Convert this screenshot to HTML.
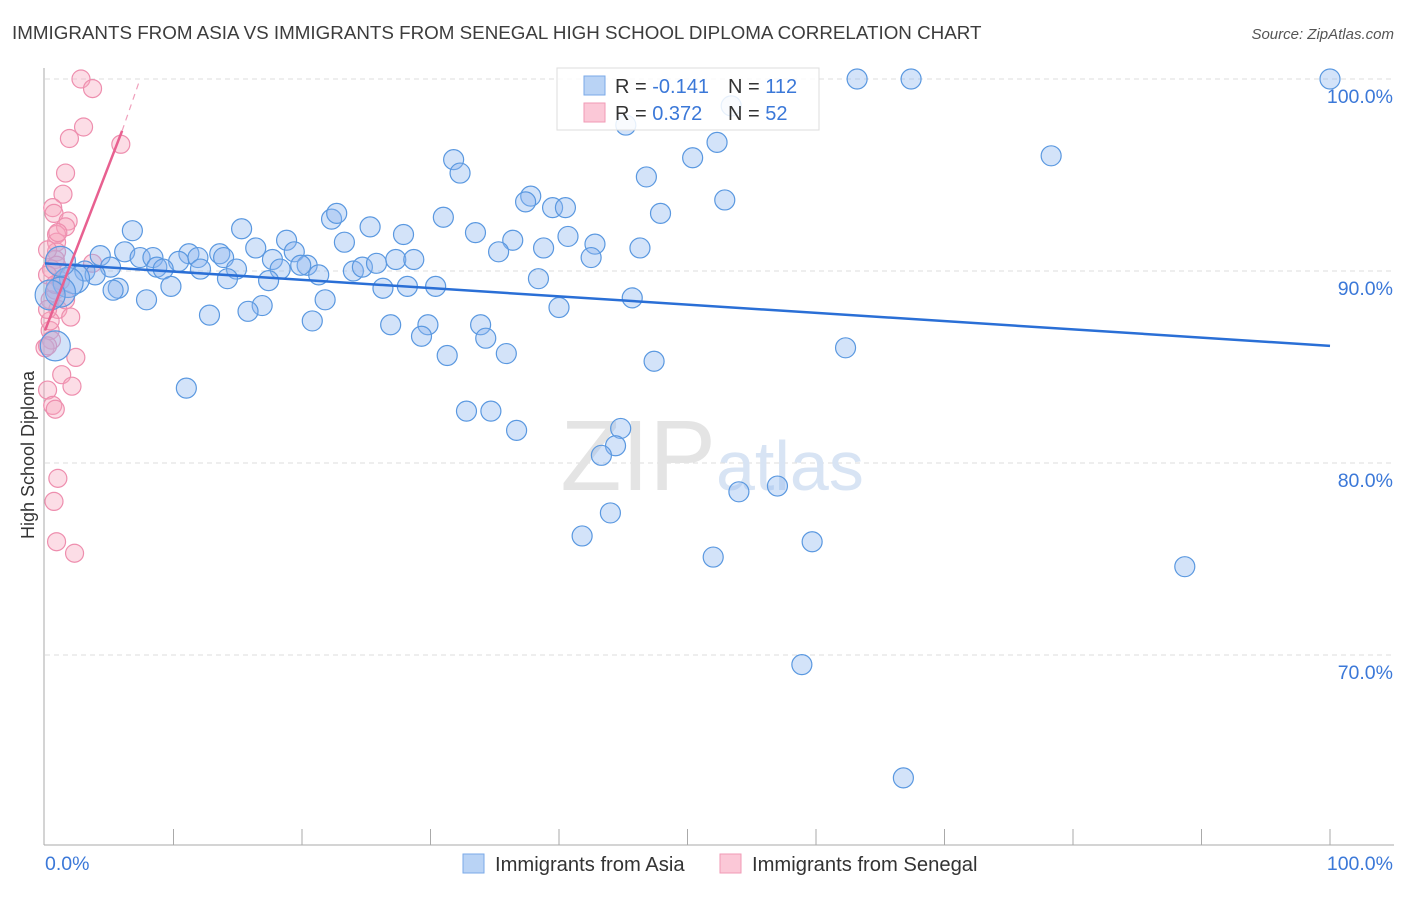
<!DOCTYPE html>
<html><head><meta charset="utf-8"><style>
body{margin:0;background:#fff;font-family:"Liberation Sans",sans-serif;}
svg text{font-family:"Liberation Sans",sans-serif;}
</style></head><body>
<svg id="chart" width="1406" height="892" viewBox="0 0 1406 892" xmlns="http://www.w3.org/2000/svg">
<text x="12" y="39" font-size="18.8" fill="#3c3c3c">IMMIGRANTS FROM ASIA VS IMMIGRANTS FROM SENEGAL HIGH SCHOOL DIPLOMA CORRELATION CHART</text>
<text x="1394" y="39" font-size="15" fill="#555" text-anchor="end" font-style="italic">Source: ZipAtlas.com</text>
<text transform="translate(34,455) rotate(-90)" font-size="18" fill="#333" text-anchor="middle">High School Diploma</text>
<g id="grid"></g>
<text x="716" y="490" font-size="100" fill="#e4e4e4" text-anchor="end" font-family="Liberation Serif">ZIP</text>
<text x="716" y="490" font-size="70" fill="#d8e4f4">atlas</text>
<g id="pts"></g>
<g id="trend"></g>
<g>
<rect x="557" y="68" width="262" height="62" fill="rgba(255,255,255,0.85)" stroke="#ddd"/>
<rect x="584" y="76" width="21" height="19" fill="#b9d3f5" stroke="#7aa9e8"/>
<rect x="584" y="103" width="21" height="19" fill="#fbc8d7" stroke="#f09ab6"/>
<text x="615" y="93" font-size="20" fill="#333">R = <tspan fill="#3b78d8">-0.141</tspan></text>
<text x="728" y="93" font-size="20" fill="#333">N = <tspan fill="#3b78d8">112</tspan></text>
<text x="615" y="120" font-size="20" fill="#333">R = <tspan fill="#3b78d8"> 0.372</tspan></text>
<text x="728" y="120" font-size="20" fill="#333">N = <tspan fill="#3b78d8"> 52</tspan></text>
</g>
<g>
<rect x="463" y="854" width="21" height="19" fill="#b9d3f5" stroke="#7aa9e8"/>
<text x="495" y="871" font-size="20.2" fill="#333">Immigrants from Asia</text>
<rect x="720" y="854" width="21" height="19" fill="#fbc8d7" stroke="#f09ab6"/>
<text x="752" y="871" font-size="20.2" fill="#333">Immigrants from Senegal</text>
</g>
</svg>
<script>
const yTicks=[100,90,80,70];
const xTickLabels=["0.0%","100.0%"];
const blueX=[100,63.2,67.4,53.4,45.2,31.8,32.3,50.4,52.3,78.3,46.8,37.8,37.4,39.5,40.5,47.9,52.9,22.3,22.7,31.0,25.3,15.3,6.8,23.3,33.5,27.9,36.4,40.7,42.8,18.8,35.3,38.8,46.3,42.5,16.4,19.4,13.6,11.2,4.3,6.2,7.4,8.4,10.4,11.9,13.9,17.7,20.4,18.3,19.9,21.3,24.0,24.7,25.8,27.3,28.7,8.7,9.2,12.1,14.9,14.2,17.4,5.1,3.1,3.9,2.3,1.8,1.2,5.7,5.3,9.8,7.9,26.3,28.2,30.4,38.4,45.7,21.8,16.9,15.8,12.8,20.8,40.0,26.9,29.8,33.9,29.3,34.3,31.3,35.9,47.4,62.3,11.0,32.8,34.7,36.7,44.8,44.4,43.3,54.0,57.0,44.0,41.8,52.0,59.7,88.7,58.9,66.8,0.8,0.4,1.2];
const blueY=[100,100,100,98.6,97.6,95.8,95.1,95.9,96.7,96.0,94.9,93.9,93.6,93.3,93.3,93.0,93.7,92.7,93.0,92.8,92.3,92.2,92.1,91.5,92.0,91.9,91.6,91.8,91.4,91.6,91.0,91.2,91.2,90.7,91.2,91.0,90.9,90.9,90.8,91.0,90.7,90.7,90.5,90.7,90.7,90.6,90.3,90.1,90.3,89.8,90.0,90.2,90.4,90.6,90.6,90.2,90.1,90.1,90.1,89.6,89.5,90.2,90.0,89.8,89.6,89.4,88.9,89.1,89.0,89.2,88.5,89.1,89.2,89.2,89.6,88.6,88.5,88.2,87.9,87.7,87.4,88.1,87.2,87.2,87.2,86.6,86.5,85.6,85.7,85.3,86.0,83.9,82.7,82.7,81.7,81.8,80.9,80.4,78.5,78.8,77.4,76.2,75.1,75.9,74.6,69.5,63.6,86.1,88.75,90.5];
const pinkX=[2.8,3.7,3.0,1.9,5.9,1.6,1.4,0.6,0.7,1.8,1.6,0.9,0.9,0.9,0.8,0.9,0.5,0.2,1.2,3.7,0.8,0.4,1.0,2.0,0.4,0.5,0,2.4,1.3,2.1,0.2,0.6,0.8,1.0,0.7,0.9,2.3,0.4,0.2,0.8,1.6,0.2,0.2,1.0];
const pinkY=[100,99.5,97.5,96.9,96.6,95.1,94.0,93.3,93.0,92.6,92.3,91.9,91.5,91.0,90.6,90.3,90.1,89.8,89.5,90.4,89.0,88.5,88.0,87.6,86.9,86.4,86.0,85.5,84.6,84.0,83.8,83.0,82.8,79.2,78.0,75.9,75.3,87.4,86.1,89.3,88.5,91.1,88.0,92.0];
const blueTrend=[[0,90.4],[100,86.1]];
const pinkTrend=[[0,86.9],[6.0,97.3]];
const pinkTrendExt=[[6.0,97.3],[7.4,100]];

const NS="http://www.w3.org/2000/svg";
const X0=45,X1=1330,Y100=79,PX_PER_PCT=19.2,BOTTOM=845;
const sx=v=>X0+(X1-X0)*v/100;
const sy=v=>Y100+(100-v)*PX_PER_PCT;
function mk(tag,attrs,parent){const e=document.createElementNS(NS,tag);for(const k in attrs)e.setAttribute(k,attrs[k]);parent.appendChild(e);return e;}
const grid=document.getElementById('grid');
yTicks.forEach(t=>{
  const l=mk('line',{x1:X0,x2:1394,y1:sy(t),y2:sy(t),stroke:'#ddd','stroke-dasharray':'5,4'},grid);
  
  
  const tx=mk('text',{x:1393,y:sy(t)+24,'font-size':19.5,fill:'#3b78d8','text-anchor':'end'},grid);
  tx.textContent=t.toFixed(1)+'%';
  
  
});
const ax=mk('line',{x1:X0-1,x2:X0-1,y1:68,y2:BOTTOM,stroke:'#aaa'},grid);


const bx=mk('line',{x1:X0-1,x2:1394,y1:BOTTOM,y2:BOTTOM,stroke:'#aaa'},grid);


for(let i=1;i<=10;i++){
  const t=mk('line',{x1:sx(i*10),x2:sx(i*10),y1:BOTTOM-16,y2:BOTTOM,stroke:'#aaa'},grid);
  
  
}
const xl0=mk('text',{x:45,y:870,'font-size':19.5,fill:'#3b78d8'},grid);xl0.textContent=xTickLabels[0];


const xl1=mk('text',{x:1393,y:870,'font-size':19.5,fill:'#3b78d8','text-anchor':'end'},grid);xl1.textContent=xTickLabels[1];



const pts=document.getElementById('pts');
pinkX.forEach((x,i)=>{
  const c=mk('circle',{cx:sx(x),cy:sy(pinkY[i]),r:9,fill:'rgba(246,165,190,0.38)',stroke:'#ee8eae','stroke-width':1.2},pts);
  
  
});
blueX.forEach((x,i)=>{
  const big=x<2.5&&i>=60;
  const c=mk('circle',{cx:sx(x),cy:sy(blueY[i]),r:big?15:10,fill:'rgba(140,182,238,0.38)',stroke:'#5a98e0','stroke-width':1.2},pts);
  
  
});
const tr=document.getElementById('trend');
const bl=mk('line',{x1:sx(blueTrend[0][0]),y1:sy(blueTrend[0][1]),x2:sx(blueTrend[1][0]),y2:sy(blueTrend[1][1]),stroke:'#2a6fd6','stroke-width':2.5},tr);


const pl=mk('line',{x1:sx(pinkTrend[0][0]),y1:sy(pinkTrend[0][1]),x2:sx(pinkTrend[1][0]),y2:sy(pinkTrend[1][1]),stroke:'#e86090','stroke-width':2.5},tr);


const pe=mk('line',{x1:sx(pinkTrendExt[0][0]),y1:sy(pinkTrendExt[0][1]),x2:sx(pinkTrendExt[1][0]),y2:sy(pinkTrendExt[1][1]),stroke:'#f0a0bc','stroke-width':1.2,'stroke-dasharray':'6,5'},tr);


</script>
</body></html>
